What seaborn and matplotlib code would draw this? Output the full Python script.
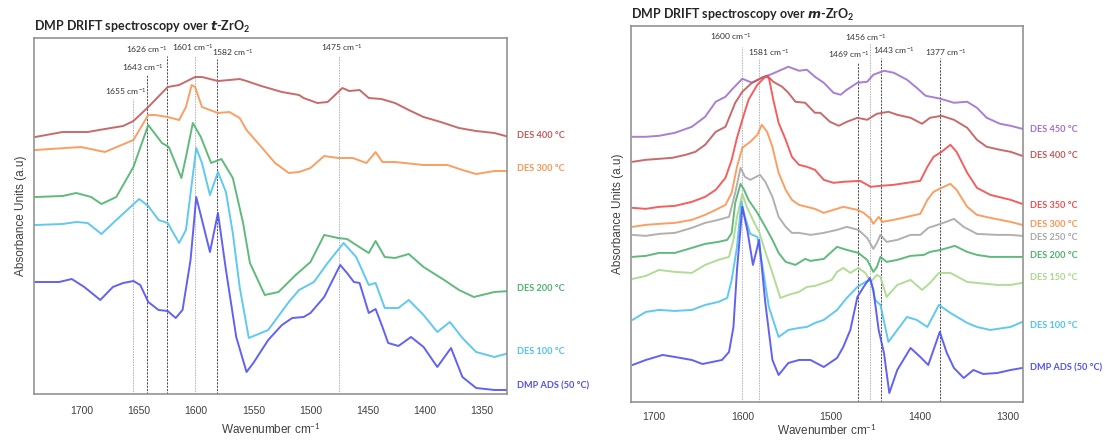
import numpy as np
import pandas as pd
import matplotlib
matplotlib.use("Agg")
import matplotlib.pyplot as plt
import seaborn as sns

# t-ZrO2 spectra (wavenumber, absorbance in arbitrary units)
t_wn_400 = [1741, 1717, 1695, 1680, 1664, 1655, 1642, 1625, 1615, 1601, 1595, 1581, 1571, 1562, 1556, 1543, 1525,
            1510, 1506, 1494, 1485, 1472, 1466, 1457, 1449, 1438, 1426, 1414, 1401, 1386, 1370, 1355, 1339, 1326]
t_ab_400 = [256, 261, 261, 264, 267, 272, 286, 306, 308, 316, 316, 312, 313, 314, 312, 307, 301,
            298, 295, 290, 291, 305, 302, 303, 295, 294, 290, 283, 276, 271, 265, 262, 260, 256]

t_wn_300 = [1741, 1701, 1680, 1655, 1642, 1636, 1625, 1615, 1609, 1604, 1601, 1595, 1581, 1571, 1562, 1556, 1543,
            1531, 1519, 1510, 1500, 1488, 1476, 1463, 1451, 1443, 1437, 1426, 1401, 1380, 1367, 1355, 1339, 1326]
t_ab_300 = [243, 246, 241, 253, 278, 278, 276, 273, 286, 308, 306, 286, 280, 281, 275, 263, 246,
            230, 220, 221, 225, 237, 235, 235, 230, 241, 231, 231, 228, 228, 223, 219, 222, 222]

t_wn_200 = [1741, 1717, 1705, 1692, 1683, 1670, 1655, 1642, 1630, 1624, 1613, 1609, 1603, 1596, 1587, 1578, 1568,
            1559, 1553, 1540, 1528, 1513, 1500, 1488, 1476, 1468, 1460, 1449, 1443, 1435, 1426, 1414, 1401, 1383,
            1370, 1357, 1339, 1326]
t_ab_200 = [196, 197, 200, 196, 189, 196, 226, 268, 250, 246, 215, 236, 270, 256, 230, 234, 215,
            170, 130, 98, 101, 118, 131, 158, 155, 154, 148, 140, 152, 136, 135, 139, 126, 113,
            103, 96, 101, 102]

t_wn_100 = [1741, 1717, 1705, 1695, 1683, 1670, 1650, 1642, 1633, 1625, 1615, 1609, 1600, 1595, 1588, 1581, 1574,
            1568, 1562, 1554, 1537, 1519, 1510, 1497, 1485, 1471, 1460, 1449, 1443, 1435, 1423, 1414, 1401, 1389,
            1378, 1367, 1355, 1339, 1326]
t_ab_100 = [168, 169, 171, 170, 159, 173, 194, 187, 173, 170, 150, 163, 245, 230, 198, 221, 201,
            160, 106, 55, 63, 91, 103, 111, 130, 150, 136, 108, 110, 85, 85, 93, 78, 61,
            71, 55, 41, 36, 40]

t_wn_ads = [1741, 1720, 1709, 1698, 1684, 1673, 1664, 1655, 1649, 1642, 1633, 1625, 1618, 1612, 1605, 1600, 1588,
            1581, 1574, 1565, 1556, 1550, 1537, 1525, 1516, 1506, 1500, 1488, 1474, 1468, 1462, 1457, 1449, 1443,
            1437, 1432, 1423, 1412, 1401, 1389, 1377, 1367, 1355, 1339, 1326]
t_ab_ads = [111, 111, 114, 106, 93, 106, 110, 112, 108, 91, 83, 82, 75, 83, 133, 196, 141,
            180, 123, 56, 21, 30, 53, 68, 75, 76, 80, 96, 128, 120, 111, 110, 80, 84,
            66, 50, 47, 56, 46, 26, 45, 16, 5, 3, 3]

# m-ZrO2 spectra
m_wn_450 = [1724, 1709, 1694, 1676, 1657, 1642, 1630, 1619, 1612, 1600, 1589, 1578, 1566, 1548, 1536, 1527, 1518,
            1508, 1497, 1489, 1482, 1470, 1459, 1452, 1440, 1429, 1414, 1403, 1393, 1376, 1361, 1346, 1335, 1324,
            1309, 1297, 1284]
m_ab_450 = [265, 265, 266, 269, 275, 285, 300, 305, 312, 323, 319, 324, 328, 335, 331, 332, 325,
            319, 309, 307, 312, 319, 320, 327, 331, 329, 322, 314, 306, 303, 299, 300, 294, 284,
            278, 276, 273]

m_wn_400 = [1724, 1709, 1694, 1679, 1664, 1653, 1642, 1630, 1619, 1608, 1600, 1589, 1578, 1572, 1565, 1555, 1548,
            1540, 1529, 1518, 1512, 1501, 1491, 1482, 1470, 1459, 1448, 1435, 1425, 1410, 1397, 1388, 1375, 1361,
            1346, 1335, 1324, 1309, 1297, 1284]
m_ab_400 = [240, 242, 243, 244, 247, 250, 257, 270, 275, 299, 310, 319, 324, 326, 320, 315, 309,
            300, 299, 289, 289, 280, 276, 280, 284, 282, 288, 290, 287, 284, 278, 284, 286, 282,
            274, 262, 255, 252, 250, 246]

m_wn_350 = [1724, 1709, 1694, 1676, 1657, 1642, 1630, 1619, 1612, 1606, 1600, 1593, 1583, 1574, 1570, 1565, 1559,
            1551, 1544, 1536, 1527, 1518, 1508, 1497, 1486, 1467, 1455, 1444, 1429, 1414, 1399, 1391, 1384, 1375,
            1365, 1358, 1346, 1335, 1320, 1297, 1284]
m_ab_350 = [194, 193, 195, 196, 200, 205, 212, 224, 242, 264, 282, 302, 317, 325, 324, 302, 279,
            262, 245, 237, 235, 232, 222, 219, 220, 221, 215, 216, 217, 219, 221, 235, 245, 250,
            257, 250, 229, 214, 207, 202, 198]

m_wn_300 = [1724, 1709, 1694, 1676, 1657, 1642, 1630, 1619, 1612, 1606, 1600, 1591, 1583, 1578, 1572, 1566, 1559,
            1551, 1544, 1536, 1527, 1518, 1508, 1497, 1486, 1470, 1463, 1455, 1452, 1446, 1442, 1429, 1414, 1399,
            1391, 1384, 1375, 1365, 1358, 1346, 1335, 1320, 1297, 1284]
m_ab_300 = [175, 177, 178, 179, 182, 187, 192, 197, 209, 235, 254, 260, 267, 277, 270, 255, 229,
            212, 202, 197, 195, 193, 189, 192, 195, 192, 189, 183, 178, 185, 180, 182, 185, 188,
            202, 210, 214, 218, 212, 195, 187, 184, 180, 177]

m_wn_250 = [1724, 1709, 1694, 1676, 1657, 1642, 1627, 1615, 1608, 1602, 1597, 1591, 1580, 1574, 1566, 1559, 1551,
            1544, 1536, 1523, 1508, 1493, 1482, 1469, 1459, 1452, 1448, 1444, 1437, 1425, 1410, 1399, 1390, 1376,
            1361, 1350, 1335, 1312, 1297, 1284]
m_ab_250 = [167, 166, 168, 169, 174, 179, 182, 185, 209, 234, 225, 222, 227, 220, 205, 185, 175,
            169, 169, 167, 169, 172, 175, 172, 164, 153, 159, 167, 160, 162, 167, 167, 174, 178,
            183, 175, 168, 167, 167, 166]

m_wn_200 = [1724, 1709, 1694, 1676, 1657, 1642, 1627, 1617, 1612, 1608, 1602, 1598, 1593, 1583, 1574, 1566, 1559,
            1551, 1540, 1529, 1523, 1508, 1493, 1482, 1469, 1459, 1452, 1448, 1444, 1437, 1425, 1410, 1395, 1388,
            1376, 1360, 1346, 1335, 1320, 1297, 1284]
m_ab_200 = [145, 146, 149, 149, 154, 158, 160, 162, 169, 199, 218, 212, 202, 189, 175, 162, 149,
            140, 137, 143, 141, 143, 155, 152, 149, 142, 130, 135, 145, 140, 142, 146, 147, 150,
            152, 156, 150, 147, 145, 145, 145]

m_wn_150 = [1724, 1709, 1694, 1676, 1657, 1642, 1627, 1615, 1610, 1606, 1600, 1595, 1587, 1581, 1574, 1566, 1557,
            1548, 1536, 1527, 1518, 1508, 1499, 1493, 1486, 1478, 1469, 1461, 1455, 1448, 1444, 1437, 1425, 1410,
            1397, 1388, 1378, 1365, 1346, 1335, 1312, 1297, 1284]
m_ab_150 = [123, 126, 132, 130, 129, 137, 142, 145, 162, 185, 208, 195, 180, 170, 150, 129, 104,
            107, 110, 115, 116, 119, 122, 130, 134, 129, 134, 129, 120, 127, 125, 105, 117, 122,
            112, 119, 129, 129, 120, 119, 117, 117, 119]

m_wn_100 = [1724, 1709, 1694, 1676, 1657, 1642, 1627, 1617, 1612, 1606, 1601, 1597, 1591, 1583, 1578, 1570, 1559,
            1548, 1536, 1527, 1518, 1508, 1493, 1482, 1470, 1461, 1455, 1450, 1444, 1435, 1425, 1414, 1403, 1391,
            1378, 1365, 1346, 1335, 1320, 1297, 1284]
m_ab_100 = [82, 90, 92, 91, 92, 97, 100, 104, 122, 155, 200, 185, 168, 165, 140, 95, 65,
            72, 74, 75, 79, 82, 92, 104, 115, 120, 122, 102, 97, 60, 72, 85, 82, 75,
            97, 89, 79, 75, 72, 75, 80]

m_wn_ads = [1724, 1709, 1690, 1676, 1657, 1645, 1634, 1623, 1615, 1610, 1606, 1600, 1594, 1588, 1581, 1574, 1566,
            1559, 1548, 1536, 1523, 1508, 1493, 1486, 1478, 1470, 1463, 1456, 1452, 1446, 1440, 1434, 1425, 1410,
            1399, 1390, 1377, 1369, 1361, 1350, 1339, 1328, 1312, 1297, 1284]
m_ab_ads = [37, 42, 47, 45, 42, 38, 40, 42, 50, 75, 132, 195, 170, 137, 162, 99, 42,
            27, 39, 42, 42, 35, 44, 55, 72, 105, 115, 124, 112, 72, 49, 9, 32, 54,
            45, 37, 70, 49, 34, 24, 32, 28, 29, 32, 34]

t_labels = ["DES 400 °C", "DES 300 °C", "DES 200 °C", "DES 100 °C", "DMP ADS (50 °C)"]
t_label_y = [258, 225, 104, 41, 7]
m_labels = ["DES 450 °C", "DES 400 °C", "DES 350 °C", "DES 300 °C", "DES 250 °C",
            "DES 200 °C", "DES 150 °C", "DES 100 °C", "DMP ADS (50 °C)"]
m_label_y = [272, 246, 196, 177, 164, 146, 124, 76, 34]

# marked bands: wavenumber, label text x/y, line top, dark?
t_peaks = [1655, 1643, 1626, 1601, 1582, 1475]
t_peak_tx = [1662, 1647, 1643, 1603, 1568, 1473]
t_peak_ty = [302, 326, 344, 346, 341, 346]
t_peak_top = [294, 319, 337, 337, 334, 337]
t_peak_dark = [False, True, True, False, True, False]

m_peaks = [1600, 1581, 1469, 1456, 1443, 1377]
m_peak_tx = [1613, 1570, 1480, 1461, 1429, 1370]
m_peak_ty = [365, 349, 347, 364, 351, 349]
m_peak_top = [355, 344, 339, 359, 344, 344]
m_peak_dark = [False, False, True, False, True, True]

c_purple = "#A070D0"
c_brown = "#C45A5A"
c_red = "#F24E4E"
c_orange = "#F99552"
c_gray = "#A8A8A8"
c_green = "#4DB36E"
c_lgreen = "#A9D98A"
c_lblue = "#4EC3F0"
c_blue = "#5050F2"

sns.set_style("white")
plt.rcParams["font.family"] = ["Liberation Sans", "DejaVu Sans"]
plt.rcParams["mathtext.fontset"] = "custom"
plt.rcParams["mathtext.rm"] = "Lato"
plt.rcParams["mathtext.it"] = "Lato:italic"
plt.rcParams["mathtext.bf"] = "Lato:bold"

fig = plt.figure(figsize=(11.05, 4.41), dpi=100)
ax1 = fig.add_axes([0.0308, 0.1066, 0.4280, 0.8072])
ax2 = fig.add_axes([0.5708, 0.0884, 0.3550, 0.8533])

t_series = [(t_wn_400, t_ab_400, c_brown), (t_wn_300, t_ab_300, c_orange), (t_wn_200, t_ab_200, c_green),
            (t_wn_100, t_ab_100, c_lblue), (t_wn_ads, t_ab_ads, c_blue)]
m_series = [(m_wn_450, m_ab_450, c_purple), (m_wn_400, m_ab_400, c_brown), (m_wn_350, m_ab_350, c_red),
            (m_wn_300, m_ab_300, c_orange), (m_wn_250, m_ab_250, c_gray), (m_wn_200, m_ab_200, c_green),
            (m_wn_150, m_ab_150, c_lgreen), (m_wn_100, m_ab_100, c_lblue), (m_wn_ads, m_ab_ads, c_blue)]


def draw_panel(ax, series, labels, label_y, label_x, peaks, ptx, pty, ptop, pdark, xlim, ylim, ticks, title,
               tick_pad, xlab_pad):
    for wn, ab, col in series:
        sns.lineplot(x=wn, y=ab, ax=ax, color=col, lw=1.4, alpha=0.9)
    for p, top, dark in zip(peaks, ptop, pdark):
        if dark:
            ax.vlines(p, ylim[0], top, color="#505050", lw=0.75, linestyles=(0, (2, 1.2)), zorder=0)
        else:
            ax.vlines(p, ylim[0], top, color="#b8b8b8", lw=0.75, linestyles=(0, (1.5, 1)), zorder=0)
    for p, x, y in zip(peaks, ptx, pty):
        ax.text(x, y, f"{p} cm$^{{-1}}$", fontsize=6.1, family="Lato", color="#333333",
                ha="center", va="center")
    for (wn, ab, col), lab, y in zip(series, labels, label_y):
        ax.text(label_x, y, lab, transform=ax.get_yaxis_transform(), fontsize=6.6, family="Lato",
                fontweight="bold", color=col, ha="left", va="center", clip_on=False)
    ax.set_xlim(*xlim)
    ax.set_ylim(*ylim)
    ax.set_xticks(ticks)
    ax.set_yticks([])
    ax.tick_params(axis="x", direction="out", length=3, width=0.8, color="#808080",
                   labelsize=7.5, labelcolor="#404040", pad=tick_pad)
    for s in ax.spines.values():
        s.set_color("#8a8a8a")
        s.set_linewidth(1.1)
    ax.set_xlabel("Wavenumber cm$^{-1}$", fontsize=8.5, color="#404040", labelpad=xlab_pad)
    ax.set_ylabel("Absorbance Units (a.u)", fontsize=8.5, color="#404040", labelpad=5)
    ax.set_title(title, loc="left", fontsize=9, family="Lato", fontweight="bold", pad=5)


draw_panel(ax1, t_series, t_labels, t_label_y, 1.021, t_peaks, t_peak_tx, t_peak_ty, t_peak_top, t_peak_dark,
           (1742, 1328), (-1, 355), [1700, 1650, 1600, 1550, 1500, 1450, 1400, 1350],
           r"DMP DRIFT spectroscopy over $\mathbfit{t}$-ZrO$_\mathbf{2}$", 6, 4)
draw_panel(ax2, m_series, m_labels, m_label_y, 1.018, m_peaks, m_peak_tx, m_peak_ty, m_peak_top, m_peak_dark,
           (1726, 1283), (0, 376), [1700, 1600, 1500, 1400, 1300],
           r"DMP DRIFT spectroscopy over $\mathbfit{m}$-ZrO$_\mathbf{2}$", 4, 1)

fig.savefig("out.png", dpi=100)
